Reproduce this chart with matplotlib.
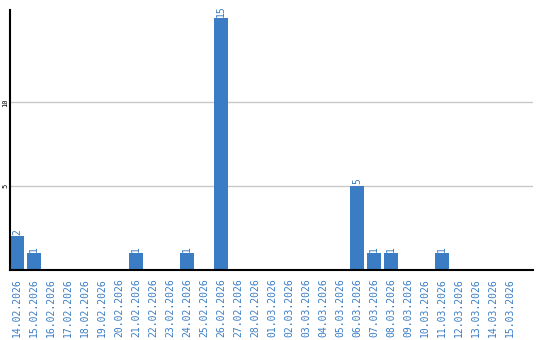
import matplotlib
matplotlib.use('Agg')
import matplotlib.pyplot as plt

dates = ['14.02.2026', '15.02.2026', '16.02.2026', '17.02.2026', '18.02.2026',
         '19.02.2026', '20.02.2026', '21.02.2026', '22.02.2026', '23.02.2026',
         '24.02.2026', '25.02.2026', '26.02.2026', '27.02.2026', '28.02.2026',
         '01.03.2026', '02.03.2026', '03.03.2026', '04.03.2026', '05.03.2026',
         '06.03.2026', '07.03.2026', '08.03.2026', '09.03.2026', '10.03.2026',
         '11.03.2026', '12.03.2026', '13.03.2026', '14.03.2026', '15.03.2026']
counts = [2, 1, 0, 0, 0, 0, 0, 1, 0, 0,
          1, 0, 15, 0, 0, 0, 0, 0, 0, 0,
          5, 1, 1, 0, 0, 1, 0, 0, 0, 0]
y_ticks = [5, 10]

blue = '#3a7dc4'
mono = 'DejaVu Sans Mono'

fig = plt.figure(figsize=(5.4, 3.4), dpi=100)
ax = fig.add_axes([10 / 540, 70 / 340, 523 / 540, 260 / 340])

x = list(range(len(dates)))
ax.bar(x, counts, width=14 / 17, color=blue, zorder=3)

# value labels only for non-zero days
for xi, c in zip(x, counts):
    if c:
        ax.text(xi, c + 0.1, str(c), rotation=90, ha='center', va='bottom',
                color=blue, fontsize=7, family=mono)

ax.set_xlim(-7 / 17, 29 + 23 / 17)
ax.set_ylim(0, 15.5)
ax.set_xticks(x)
ax.set_xticklabels(dates, rotation=90, color=blue, fontsize=7, family=mono)
ax.set_yticks(y_ticks)
ax.set_yticklabels([str(t) for t in y_ticks], rotation=90, fontsize=5,
                   va='center', family=mono)
ax.tick_params(axis='y', length=0, pad=1)
ax.tick_params(axis='x', length=0, pad=6)
ax.yaxis.grid(True, color='#c8c8c8', linewidth=1, zorder=0)

for s in ['top', 'right']:
    ax.spines[s].set_visible(False)
for s in ['left', 'bottom']:
    ax.spines[s].set_linewidth(1.5)
    ax.spines[s].set_zorder(4)

fig.savefig('out.png', dpi=100)
